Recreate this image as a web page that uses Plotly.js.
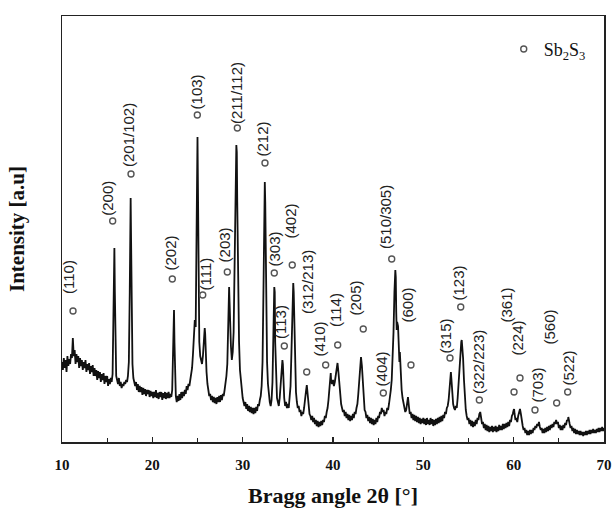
<!DOCTYPE html>
<html>
<head>
<meta charset="utf-8">
<script src="https://cdn.plot.ly/plotly-3.0.1.min.js"></script>
<style>html,body{margin:0;padding:0;background:#fff;}#chart{width:612px;height:508px;}</style>
</head>
<body>
<div id="chart"></div>
<script>
// Measured XRD pattern (2θ in degrees, intensity in arbitrary units)
var twoTheta = [
10.0,10.1,10.2,10.3,10.4,10.5,10.6,10.7,10.8,10.9,11.0,11.1,11.2,11.3,11.4,11.5,11.6,11.7,11.8,11.9,
12.0,12.1,12.2,12.3,12.4,12.5,12.6,12.7,12.8,12.9,13.0,13.1,13.2,13.3,13.4,13.5,13.6,13.7,13.8,13.9,
14.0,14.1,14.2,14.3,14.4,14.5,14.6,14.7,14.8,14.9,15.0,15.1,15.2,15.3,15.4,15.5,15.6,15.7,15.8,15.85,15.9,
16.0,16.1,16.2,16.3,16.4,16.5,16.6,16.7,16.8,16.9,17.0,17.1,17.2,17.3,17.4,17.5,17.6,17.65,17.7,17.8,17.9,
18.0,18.1,18.2,18.3,18.4,18.5,18.6,18.7,18.8,18.9,19.0,19.1,19.2,19.3,19.4,19.5,19.6,19.7,19.8,19.9,
20.0,20.1,20.2,20.3,20.4,20.5,20.6,20.7,20.8,20.9,21.0,21.1,21.2,21.3,21.4,21.5,21.6,21.7,21.8,21.9,
22.0,22.1,22.2,22.3,22.4,22.45,22.5,22.6,22.7,22.8,22.9,23.0,23.1,23.2,23.3,23.4,23.5,23.6,23.7,23.8,23.9,
24.0,24.1,24.2,24.3,24.4,24.5,24.6,24.7,24.8,24.9,24.95,25.0,25.05,25.1,25.2,25.3,25.4,25.5,25.6,25.7,25.8,25.85,25.9,
26.0,26.1,26.2,26.3,26.4,26.5,26.6,26.7,26.8,26.9,27.0,27.1,27.2,27.3,27.4,27.5,27.6,27.7,27.8,27.9,
28.0,28.1,28.2,28.3,28.4,28.5,28.55,28.6,28.7,28.8,28.9,29.0,29.1,29.2,29.3,29.35,29.4,29.5,29.6,29.7,29.8,29.9,
30.0,30.1,30.2,30.3,30.4,30.5,30.6,30.7,30.8,30.9,31.0,31.1,31.2,31.3,31.4,31.5,31.6,31.7,31.8,31.9,
32.0,32.1,32.2,32.3,32.4,32.45,32.5,32.6,32.7,32.8,32.9,33.0,33.1,33.2,33.3,33.4,33.5,33.55,33.6,33.7,33.8,33.9,
34.0,34.1,34.2,34.3,34.4,34.45,34.5,34.6,34.7,34.8,34.9,35.0,35.1,35.2,35.3,35.4,35.5,35.6,35.65,35.7,35.8,35.9,
36.0,36.1,36.2,36.3,36.4,36.5,36.6,36.7,36.8,36.9,37.0,37.1,37.2,37.3,37.4,37.5,37.6,37.7,37.8,37.9,
38.0,38.1,38.2,38.3,38.4,38.5,38.6,38.7,38.8,38.9,39.0,39.1,39.2,39.3,39.4,39.5,39.6,39.7,39.75,39.8,39.9,
40.0,40.1,40.2,40.3,40.4,40.5,40.6,40.7,40.8,40.9,41.0,41.1,41.2,41.3,41.4,41.5,41.6,41.7,41.8,41.9,
42.0,42.1,42.2,42.3,42.4,42.5,42.6,42.7,42.8,42.9,43.0,43.1,43.2,43.3,43.4,43.5,43.6,43.7,43.8,43.9,
44.0,44.1,44.2,44.3,44.4,44.5,44.6,44.7,44.8,44.9,45.0,45.1,45.2,45.3,45.4,45.5,45.6,45.7,45.8,45.9,
46.0,46.1,46.2,46.3,46.4,46.5,46.6,46.7,46.8,46.9,46.95,47.0,47.05,47.1,47.2,47.25,47.3,47.35,47.4,47.5,47.6,47.7,47.8,47.9,
48.0,48.1,48.2,48.3,48.4,48.5,48.6,48.7,48.8,48.9,49.0,49.1,49.2,49.3,49.4,49.5,49.6,49.7,49.8,49.9,
50.0,50.1,50.2,50.3,50.4,50.5,50.6,50.7,50.8,50.9,51.0,51.1,51.2,51.3,51.4,51.5,51.6,51.7,51.8,51.9,
52.0,52.1,52.2,52.3,52.4,52.5,52.6,52.7,52.8,52.9,53.0,53.05,53.1,53.2,53.3,53.4,53.5,53.6,53.7,53.8,53.9,
54.0,54.1,54.2,54.25,54.3,54.4,54.5,54.6,54.7,54.8,54.9,55.0,55.1,55.2,55.3,55.4,55.5,55.6,55.7,55.8,55.9,
56.0,56.1,56.2,56.3,56.4,56.5,56.6,56.7,56.8,56.9,57.0,57.1,57.2,57.3,57.4,57.5,57.6,57.7,57.8,57.9,
58.0,58.1,58.2,58.3,58.4,58.5,58.6,58.7,58.8,58.9,59.0,59.1,59.2,59.3,59.4,59.5,59.6,59.7,59.8,59.9,
60.0,60.05,60.1,60.2,60.3,60.4,60.5,60.6,60.7,60.8,60.9,61.0,61.1,61.2,61.3,61.4,61.5,61.6,61.7,61.8,61.9,
62.0,62.1,62.2,62.3,62.4,62.5,62.6,62.7,62.8,62.9,63.0,63.1,63.2,63.3,63.4,63.5,63.6,63.7,63.8,63.9,
64.0,64.1,64.2,64.3,64.4,64.5,64.6,64.7,64.8,64.9,65.0,65.1,65.2,65.3,65.4,65.5,65.6,65.7,65.8,65.9,
66.0,66.05,66.1,66.2,66.3,66.4,66.5,66.6,66.7,66.8,66.9,67.0,67.1,67.2,67.3,67.4,67.5,67.6,67.7,67.8,67.9,
68.0,68.1,68.2,68.3,68.4,68.5,68.6,68.7,68.8,68.9,69.0,69.1,69.2,69.3,69.4,69.5,69.6,69.7,69.8,69.9,70.0
];
var intensity = [
80,72,84,74,82,70,86,76,83,78,88,84,104,86,92,78,88,80,86,74,
84,76,82,72,80,74,82,70,78,72,79,68,76,70,77,66,74,66,72,62,
71,64,70,60,68,62,69,58,66,60,66,56,63,58,64,60,68,120,194,150,90,
66,62,58,64,56,60,54,58,56,60,58,62,60,66,80,150,244,200,120,78,64,
60,56,60,52,58,50,56,50,55,47,54,48,53,46,52,48,52,45,51,46,
50,44,50,45,52,44,49,43,50,45,50,42,49,44,50,43,49,44,50,44,
48,45,52,90,132,100,60,46,40,46,41,48,42,50,44,50,46,52,48,56,52,
58,56,62,66,74,88,110,122,115,180,260,305,260,150,100,86,80,78,86,100,114,108,90,
70,58,52,46,48,42,46,40,45,39,44,38,45,40,46,40,47,42,48,46,
52,58,66,78,110,155,140,120,96,82,90,110,160,240,297,290,240,160,100,72,60,50,
44,40,36,40,33,38,31,36,30,35,29,34,28,34,29,35,31,38,36,42,
46,56,80,150,240,260,240,140,80,58,46,40,36,42,60,110,155,150,100,60,44,40,
36,44,56,70,82,78,62,44,36,40,34,38,34,42,56,90,140,159,150,120,80,50,
40,34,36,30,32,26,30,28,34,40,50,57,48,36,28,26,22,26,20,24,
18,22,16,21,15,20,16,21,17,22,20,26,24,30,34,42,56,64,69,60,58,
62,56,60,66,74,79,70,56,44,38,34,30,32,26,30,24,28,22,27,21,
26,22,28,24,30,28,34,38,48,62,78,85,76,56,40,32,30,24,27,21,
25,19,24,18,23,17,22,18,24,20,26,24,30,28,34,30,32,26,30,28,
34,32,38,44,52,62,80,110,150,172,165,130,112,120,116,95,105,80,90,60,52,44,38,34,
30,32,38,45,36,28,30,24,28,22,27,21,26,20,25,19,24,18,23,19,
24,18,23,17,24,18,22,17,24,18,23,16,22,17,23,18,24,19,25,20,
26,21,27,24,30,28,34,36,42,56,66,70,64,48,38,34,32,36,34,44,60,
76,90,100,102,98,84,62,42,32,26,22,24,18,22,16,21,15,20,16,22,18,
24,22,28,30,24,18,20,14,18,12,17,11,16,10,15,11,16,10,15,11,
16,10,15,11,17,12,16,12,18,13,18,14,19,15,20,16,22,20,26,28,
32,33,28,22,24,20,26,30,33,28,20,16,12,14,9,12,7,11,7,12,8,
12,9,14,12,16,14,18,16,20,15,12,14,9,13,9,14,10,15,11,16,
12,17,14,18,15,20,18,22,18,20,14,17,12,16,12,17,14,19,17,22,
21,25,20,18,14,16,11,14,9,13,8,12,8,11,7,11,7,10,6,10,7,
11,7,11,8,12,8,12,9,13,9,12,9,13,10,14,10,14,11,15,11,14
];

// Sb2S3 reflections: labels, marker positions (2θ, a.u.) and label positions
var hklLabels = ['(110)','(200)','(201/102)','(202)','(103)','(111)','(203)','(211/112)','(212)','(303)','(113)','(402)','(312/213)','(410)','(114)','(205)','(404)','(510/305)','(600)','(315)','(123)','(322/223)','(361)','(224)','(703)','(560)','(522)'];
var markTheta = [11.22,15.61,17.64,22.21,24.98,25.58,28.30,29.41,32.47,33.50,34.61,35.49,37.09,39.19,40.52,43.35,45.57,46.50,48.63,52.95,54.14,56.20,60.04,60.70,62.36,64.76,65.98];
var markInt   = [131,221,268,163,327,147,170,314,279,169,96,177,70,77,97,113,49,183,77,84,135,42,50,64,32,39,50];
var labelTheta = [10.66,15.01,17.31,21.96,24.94,25.83,28.04,29.26,32.14,33.47,34.13,35.24,37.12,38.56,40.22,42.44,45.42,45.76,48.30,52.40,53.84,56.05,59.26,60.37,62.69,64.02,66.02];
var labelInt   = [147,225,274,170,332,150,179,317,284,174,102,202,127,85,114,125,55,192,119,87,140,47,119,85,39,97,55];

var xTickVals = [10,20,30,40,50,60,70];
var xTickText = ['10','20','30','40','50','60','70'];

var serif = 'Liberation Serif, Times New Roman, serif';
var sans = 'Liberation Sans, Arial, sans-serif';

var traces = [
  {x: twoTheta, y: intensity, type: 'scatter', mode: 'lines',
   line: {color: '#111', width: 1.8}, showlegend: false, hoverinfo: 'skip'},
  {x: markTheta, y: markInt, type: 'scatter', mode: 'markers',
   name: 'Sb<sub>2</sub>S<sub>3</sub>',
   marker: {symbol: 'circle-open', size: 6, color: '#555', line: {width: 1.4, color: '#555'}}}
];

var annotations = hklLabels.map(function (t, i) {
  return {x: labelTheta[i], y: labelInt[i], xref: 'x', yref: 'y', text: t,
    textangle: -90, showarrow: false, xanchor: 'center', yanchor: 'bottom',
    font: {family: sans, size: 15, color: '#222'}, borderpad: 0};
});

var layout = {
  width: 612, height: 508,
  margin: {l: 62, r: 8, t: 16, b: 66},
  paper_bgcolor: '#fff', plot_bgcolor: '#fff',
  showlegend: true,
  legend: {x: 0.815, y: 0.922, xanchor: 'left', yanchor: 'middle', bgcolor: 'rgba(0,0,0,0)',
    font: {family: serif, size: 18, color: '#111'}, itemwidth: 30},
  xaxis: {range: [10, 70], tickvals: xTickVals, ticktext: xTickText,
    ticks: 'inside', ticklen: 5, tickwidth: 1.3, tickcolor: '#222',
    minor: {dtick: 5, tick0: 10, ticks: 'inside', ticklen: 4, tickwidth: 1.3, tickcolor: '#222'},
    showline: true, linecolor: '#222', linewidth: 1.5, mirror: true,
    showgrid: false, zeroline: false, ticklabelstandoff: 8,
    tickfont: {family: serif, size: 15, color: '#111', weight: 'bold'},
    title: {text: 'Bragg angle 2θ [°]', standoff: 16,
      font: {family: serif, size: 22, color: '#111', weight: 'bold'}}},
  yaxis: {range: [0, 426], showticklabels: false, ticks: '',
    showline: true, linecolor: '#222', linewidth: 1.5, mirror: true,
    showgrid: false, zeroline: false,
    title: {text: 'Intensity [a.u]', standoff: 30,
      font: {family: serif, size: 21, color: '#111', weight: 'bold'}}},
  annotations: annotations
};

Plotly.newPlot('chart', traces, layout, {displayModeBar: false, staticPlot: true});
</script>
</body>
</html>
